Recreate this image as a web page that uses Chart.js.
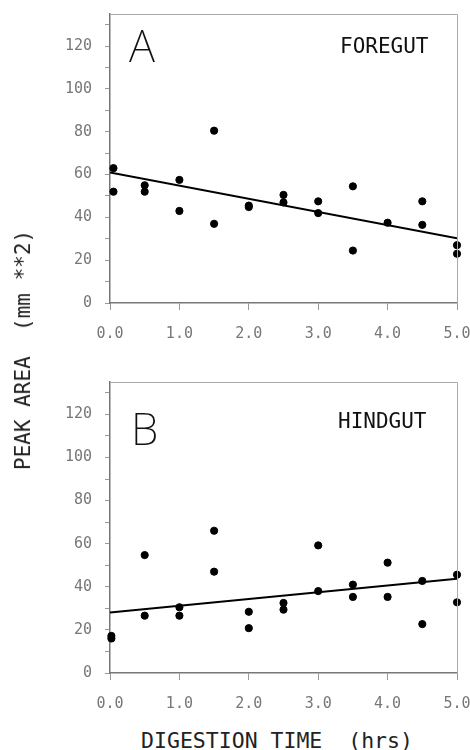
<!DOCTYPE html>
<html>
<head>
<meta charset="utf-8">
<script src="https://cdn.jsdelivr.net/npm/chart.js@4/dist/chart.umd.min.js"></script>
<style>
  body { margin: 0; background: #fff; }
  #page { position: relative; width: 470px; height: 750px; overflow: hidden; }
  .panel { position: absolute; left: 0; width: 470px; height: 360px; }
  #ytitle { position: absolute; left: 23px; top: 350px; transform: translate(-50%, -50%) rotate(-90deg);
            font: 21px "DejaVu Sans Mono", monospace; color: #222; white-space: pre; }
  #xtitle { position: absolute; left: 277px; top: 740px; transform: translate(-50%, -50%);
            font: 21.5px "DejaVu Sans Mono", monospace; color: #222; white-space: pre; }
</style>
</head>
<body>
<div id="page">
  <div class="panel" style="top:0"><canvas id="chartA"></canvas></div>
  <div class="panel" style="top:360px"><canvas id="chartB"></canvas></div>
  <div id="ytitle">PEAK AREA  (mm **2)</div>
  <div id="xtitle">DIGESTION TIME  (hrs)</div>
</div>
<script>
// panel A - foregut
var timesA = [0.05, 0.05, 0.5, 0.5, 1.0, 1.0, 1.5, 1.5, 2.0, 2.0, 2.5, 2.5, 3.0, 3.0, 3.5, 3.5, 4.0, 4.5, 4.5, 5.0, 5.0];
var areaA  = [63, 52, 55, 52, 57.5, 43, 80.5, 37, 45.5, 44.8, 50.5, 47, 47.5, 42, 54.5, 24.5, 37.5, 47.5, 36.5, 27, 23];
var fitTimeA = [0, 5];
var fitAreaA = [61, 30.2];

// panel B - hindgut
var timesB = [0.02, 0.02, 0.5, 0.5, 1.0, 1.0, 1.5, 1.5, 2.0, 2.0, 2.5, 2.5, 3.0, 3.0, 3.5, 3.5, 4.0, 4.0, 4.5, 4.5, 5.0, 5.0];
var areaB  = [17.2, 16, 54.7, 26.6, 30.5, 26.6, 66, 47, 28.4, 20.8, 32.5, 29.4, 59.2, 38, 41, 35.3, 51.2, 35.3, 42.7, 22.7, 45.6, 32.8];
var fitTimeB = [0, 5];
var fitAreaB = [28.1, 43.7];

var xTicks = [0, 1, 2, 3, 4, 5];
var yTicks = [0, 10, 20, 30, 40, 50, 60, 70, 80, 90, 100, 110, 120, 130];

function pts(xs, ys) {
    var out = [];
    for (var i = 0; i < xs.length; i++) out.push({x: xs[i], y: ys[i]});
    return out;
}

var frame = {
    id: 'frame',
    afterDraw: function(chart, args, opts) {
        var a = chart.chartArea, ctx = chart.ctx;
        ctx.save();
        ctx.strokeStyle = '#aaa';
        ctx.lineWidth = 1;
        ctx.beginPath();
        ctx.moveTo(a.left, a.top + 0.5);
        ctx.lineTo(a.right + 0.5, a.top + 0.5);
        ctx.lineTo(a.right + 0.5, a.bottom);
        ctx.stroke();
        ctx.fillStyle = '#111';
        ctx.font = '200 44px "Noto Sans", sans-serif';
        ctx.fillText(opts.letter, opts.lx, opts.ly);
        ctx.font = '21px "DejaVu Sans Mono", monospace';
        ctx.fillText(opts.name, opts.nx, opts.ny);
        ctx.restore();
    }
};

function createchart(id, times, areas, fitT, fitA, top, axisH, letter, name, lx, ly, nx, ny) {
    var ctx = document.getElementById(id).getContext('2d');
    return new Chart(ctx, {
        type: 'scatter',
        data: {
            datasets: [{
                data: pts(times, areas),
                backgroundColor: '#000',
                borderColor: '#000',
                pointRadius: 3.6,
                clip: false
            }, {
                type: 'line',
                data: pts(fitT, fitA),
                borderColor: '#000',
                borderWidth: 2,
                pointRadius: 0,
                fill: false
            }]
        },
        plugins: [frame],
        options: {
            responsive: false,
            animation: false,
            events: [],
            layout: { padding: { top: top, right: 13, left: 0, bottom: 0 } },
            plugins: {
                legend: { display: false },
                tooltip: { enabled: false },
                frame: { letter: letter, name: name, lx: lx, ly: ly, nx: nx, ny: ny }
            },
            scales: {
                x: {
                    type: 'linear', min: 0, max: 5,
                    afterBuildTicks: function(s) { s.ticks = xTicks.map(function(v) { return {value: v}; }); },
                    afterFit: function(s) { s.height = axisH; s.paddingLeft = 0; s.paddingRight = 0; },
                    grid: { drawOnChartArea: false, tickLength: 7, color: '#999' },
                    border: { color: '#777', width: 1.5 },
                    ticks: {
                        autoSkip: false, maxRotation: 0, padding: 15, color: '#777',
                        font: { family: '"DejaVu Sans Mono", monospace', size: 15 },
                        callback: function(v) { return v.toFixed(1); }
                    }
                },
                y: {
                    min: 0, max: 135,
                    afterBuildTicks: function(s) { s.ticks = yTicks.map(function(v) { return {value: v}; }); },
                    afterFit: function(s) { s.width = 110; s.paddingTop = 0; s.paddingBottom = 0; },
                    grid: { drawOnChartArea: false, tickLength: 5, color: '#999' },
                    border: { color: '#777', width: 1.5 },
                    ticks: {
                        padding: 13, color: '#777',
                        font: { family: '"DejaVu Sans Mono", monospace', size: 15 },
                        callback: function(v) { return v % 20 === 0 ? v : ''; }
                    }
                }
            }
        }
    });
}

var cA = document.getElementById('chartA'); cA.width = 470; cA.height = 360;
var cB = document.getElementById('chartB'); cB.width = 470; cB.height = 360;
createchart('chartA', timesA, areaA, fitTimeA, fitAreaA, 14, 57, 'A', 'FOREGUT', 129, 62, 340, 53);
createchart('chartB', timesB, areaB, fitTimeB, fitAreaB, 22, 47, 'B', 'HINDGUT', 131, 85, 338, 68);
</script>
</body>
</html>
